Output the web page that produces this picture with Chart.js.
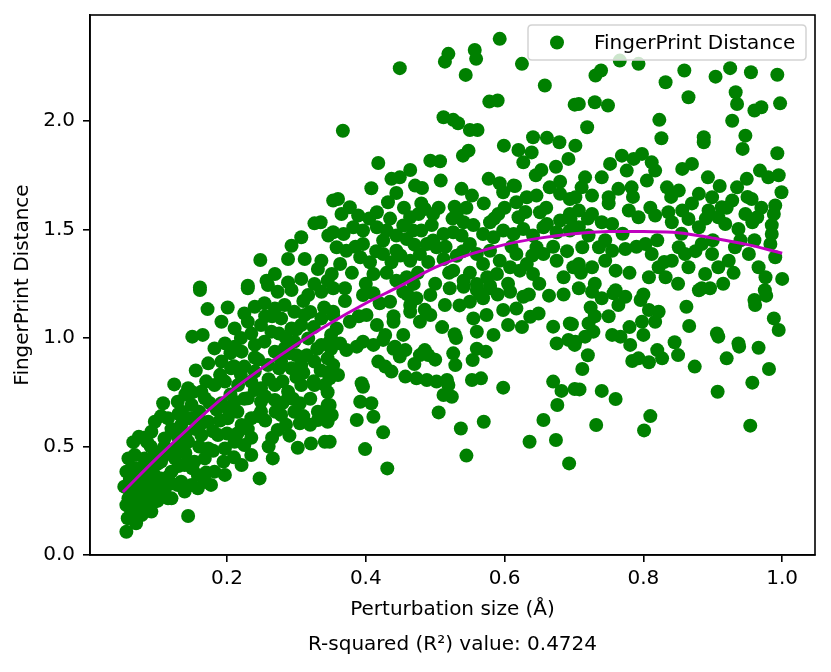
<!DOCTYPE html>
<html>
<head>
<meta charset="utf-8">
<script src="https://cdn.jsdelivr.net/npm/chart.js@4.4.1/dist/chart.umd.min.js"></script>
<style>
html,body{margin:0;padding:0;background:#fff;}
canvas{display:block;}
</style>
</head>
<body>
<canvas id="c" width="831" height="672"></canvas>
<script>
// ---------- DATA ----------
const xTickValues = [0.2, 0.4, 0.6, 0.8, 1.0];
const yTickValues = [0.0, 0.5, 1.0, 1.5, 2.0];

const fitX = [0.05,0.10,0.15,0.20,0.25,0.30,0.35,0.40,0.45,0.50,0.55,0.60,0.65,0.70,0.75,0.80,0.85,0.90,0.95,1.00];
const fitY = [0.29,0.45,0.60,0.74,0.86,0.97,1.07,1.16,1.24,1.325,1.385,1.43,1.46,1.48,1.49,1.49,1.485,1.46,1.43,1.39];

const leftPoints = [
[0.353,1.633],[0.326,1.528],[0.335,1.533],[0.307,1.464],[0.293,1.425],[0.346,1.472],[0.248,1.359],[0.288,1.364],[0.312,1.364],[0.336,1.356],[0.331,1.318],[0.257,1.264],[0.269,1.295],[0.288,1.256],[0.307,1.272],[0.326,1.249],[0.345,1.264],[0.161,1.233],[0.230,1.241],
[0.161,1.221],[0.230,1.229],[0.259,1.244],[0.273,1.213],[0.293,1.221],[0.317,1.198],[0.336,1.213],[0.353,1.229],
[0.172,1.133],[0.201,1.140],
[0.225,1.113],[0.240,1.144],[0.254,1.160],[0.269,1.136],[0.283,1.152],[0.297,1.121],[0.312,1.106],
[0.192,1.075],[0.211,1.044],[0.230,1.075],[0.249,1.060],[0.264,1.029],[0.278,1.090],[0.293,1.044],[0.307,1.060],[0.336,1.090],[0.353,1.106],
[0.150,1.006],[0.165,1.014],
[0.182,0.952],[0.197,0.975],[0.211,0.960],[0.221,0.937],[0.240,0.968],[0.254,0.983],[0.269,0.937],[0.283,0.952],[0.297,0.983],[0.317,0.998],[0.336,0.968],[0.350,1.014],
[0.173,0.883],[0.192,0.891],[0.206,0.860],[0.225,0.868],[0.240,0.845],[0.259,0.875],[0.278,0.891],[0.293,0.860],[0.307,0.875],[0.326,0.891],[0.345,0.906],
[0.124,0.786],[0.144,0.768],[0.163,0.752],[0.182,0.783],[0.197,0.799],[0.216,0.783],[0.235,0.799],[0.249,0.768],[0.269,0.783],[0.288,0.752],[0.307,0.783],[0.326,0.783],[0.341,0.783],
[0.108,0.699],[0.129,0.706],[0.149,0.691],[0.168,0.722],[0.192,0.699],[0.211,0.706],[0.230,0.722],[0.249,0.706],[0.269,0.714],[0.288,0.722],[0.305,0.699],[0.345,0.691],
[0.096,0.614],[0.115,0.630],[0.134,0.599],[0.153,0.630],[0.173,0.614],[0.187,0.553],[0.201,0.630],[0.221,0.599],[0.235,0.630],[0.249,0.660],[0.278,0.645],[0.297,0.660],[0.331,0.660],[0.345,0.614],
[0.073,0.545],[0.091,0.568],[0.110,0.537],[0.129,0.545],[0.144,0.522],[0.163,0.553],[0.173,0.491],
[0.197,0.491],[0.211,0.522],[0.225,0.507],[0.235,0.461],[0.221,0.415],[0.266,0.445],[0.273,0.576],[0.302,0.494],[0.321,0.514],[0.341,0.522],[0.305,0.607],[0.331,0.622],
[0.058,0.445],[0.067,0.461],[0.081,0.445],[0.096,0.476],[0.110,0.461],[0.125,0.445],[0.139,0.415],[0.153,0.430],[0.168,0.445],[0.182,0.384],[0.197,0.369],[0.158,0.369],
[0.055,0.384],[0.062,0.399],[0.077,0.369],[0.091,0.384],[0.105,0.353],[0.120,0.384],[0.134,0.338],[0.149,0.323],[0.168,0.338],[0.177,0.323],
[0.052,0.315],[0.057,0.322],[0.072,0.307],[0.086,0.292],[0.101,0.276],[0.115,0.261],[0.096,0.246],[0.081,0.230],[0.067,0.246],[0.058,0.261],
[0.055,0.230],[0.062,0.200],[0.077,0.184],[0.091,0.200],[0.057,0.169],[0.069,0.146],[0.144,0.180],[0.055,0.107],[0.120,0.261],
[0.139,0.292],[0.158,0.307],[0.129,0.322],[0.247,0.353],
[0.060,0.350],[0.070,0.400],[0.085,0.330],[0.100,0.420],[0.110,0.500],[0.120,0.580],[0.130,0.650],[0.140,0.740],[0.090,0.500],[0.075,0.270],[0.065,0.290],[0.100,0.310],[0.115,0.360],[0.125,0.490],[0.140,0.470],[0.155,0.580],[0.160,0.660],[0.175,0.700],[0.180,0.570],[0.185,0.670],[0.200,0.560],[0.205,0.740],[0.215,0.660],[0.220,0.830],[0.230,0.580],[0.240,0.760],[0.255,0.620],[0.260,0.810],[0.265,0.540],[0.275,0.860],[0.280,0.700],[0.285,0.600],[0.290,0.930],[0.300,0.820],[0.310,0.640],[0.315,0.920],[0.320,0.720],[0.325,1.050],[0.335,0.850],[0.340,1.140],[0.345,0.750],[0.310,1.170],[0.285,1.000],[0.265,1.100],[0.245,0.900],[0.235,1.020],[0.205,0.930],[0.190,0.830],[0.170,0.800],[0.155,0.850],[0.150,0.750],[0.135,0.660],[0.140,0.550],[0.095,0.430],[0.085,0.520],[0.075,0.350],
[0.060,0.270],[0.065,0.340],[0.070,0.190],[0.080,0.260],[0.080,0.410],[0.085,0.240],[0.090,0.330],[0.095,0.370],[0.100,0.250],[0.105,0.430],[0.110,0.300],[0.115,0.480],[0.120,0.330],[0.125,0.570],[0.130,0.410],[0.135,0.500],[0.145,0.630],[0.150,0.400],[0.160,0.500],[0.165,0.610],[0.170,0.380],[0.180,0.480],[0.190,0.620],[0.195,0.430],[0.200,0.680],[0.210,0.450],[0.065,0.520],[0.080,0.540],[0.105,0.640],
[0.215,0.560],[0.225,0.720],[0.235,0.540],[0.245,0.640],[0.255,0.730],[0.260,0.500],[0.270,0.660],[0.280,0.800],[0.290,0.550],[0.295,0.720],[0.300,0.920],[0.310,0.840],[0.320,0.600],[0.325,0.800],[0.330,0.950],[0.340,0.660],[0.345,0.840],[0.350,0.950],[0.300,1.040],[0.320,1.120],[0.275,1.020],[0.255,1.100],[0.220,1.000],[0.210,0.870],[0.240,0.910]
];

const middlePoints = [
[0.593,2.378],[0.519,2.309],[0.514,2.273],[0.557,2.327],[0.559,2.286],[0.449,2.243],[0.544,2.212],[0.625,2.263],[0.658,2.163],[0.578,2.089],[0.590,2.094],[0.701,2.075],[0.512,2.017],[0.526,2.005],[0.533,1.989],[0.550,1.958],[0.561,1.958],[0.367,1.955],[0.641,1.925],[0.661,1.922],[0.679,1.902],[0.599,1.886],[0.620,1.866],[0.639,1.855],[0.627,1.809],[0.540,1.840],[0.548,1.863],[0.418,1.806],[0.493,1.817],[0.507,1.814],[0.692,1.825],[0.653,1.774],[0.674,1.789],[0.464,1.774],[0.437,1.733],[0.449,1.740],[0.508,1.725],[0.577,1.733],[0.593,1.713],[0.613,1.702],[0.598,1.671],[0.408,1.690],[0.444,1.668],[0.471,1.702],[0.481,1.691],[0.538,1.687],[0.553,1.656],[0.360,1.640],[0.665,1.694],[0.680,1.664],[0.694,1.640],[0.617,1.625],[0.632,1.648],[0.646,1.656],[0.432,1.625],[0.377,1.602],[0.365,1.571],[0.389,1.564],[0.416,1.579],[0.485,1.594],[0.497,1.571],[0.528,1.605],[0.531,1.564],[0.541,1.533],[0.591,1.571],[0.579,1.533],[0.620,1.556],[0.651,1.579],[0.661,1.525],[0.680,1.541],[0.694,1.571],[0.464,1.556],[0.476,1.571],[0.454,1.518],[0.353,1.487],[0.368,1.479],[0.382,1.510],[0.396,1.495],[0.396,1.433],[0.416,1.510],[0.430,1.495],[0.425,1.449],[0.444,1.472],[0.459,1.456],[0.468,1.495],[0.480,1.495],[0.497,1.449],[0.512,1.479],[0.526,1.487],[0.538,1.472],[0.550,1.433],[0.569,1.479],[0.584,1.464],[0.598,1.495],[0.613,1.479],[0.627,1.502],[0.641,1.472],[0.656,1.510],[0.675,1.487],[0.694,1.495],[0.358,1.418],[0.372,1.402],[0.363,1.341],[0.351,1.295],[0.392,1.372],[0.406,1.349],[0.411,1.295],[0.425,1.387],[0.437,1.349],[0.444,1.402],[0.464,1.356],[0.459,1.280],[0.478,1.387],[0.488,1.433],[0.502,1.418],[0.512,1.364],[0.526,1.310],[0.541,1.264],[0.531,1.379],[0.560,1.387],[0.569,1.341],[0.579,1.402],[0.593,1.356],[0.589,1.295],[0.608,1.326],[0.622,1.310],[0.632,1.341],[0.641,1.295],[0.656,1.387],[0.675,1.356],[0.685,1.280],[0.699,1.326],[0.646,1.418],[0.617,1.387],[0.444,1.264],[0.469,1.249],[0.560,1.249],[0.579,1.241],
[0.370,1.229],[0.396,1.198],[0.411,1.206],[0.435,1.167],[0.454,1.213],[0.473,1.183],[0.493,1.198],[0.514,1.152],[0.521,1.229],[0.541,1.236],[0.560,1.221],[0.579,1.229],[0.608,1.213],[0.627,1.190],[0.550,1.167],[0.569,1.183],[0.664,1.195],
[0.353,1.121],[0.377,1.075],[0.358,1.044],[0.401,1.106],[0.416,1.060],[0.428,1.014],[0.440,1.075],[0.454,1.014],[0.464,1.121],[0.478,1.075],[0.493,1.106],[0.464,1.152],[0.528,1.017],
[0.555,1.090],[0.560,1.029],[0.574,1.106],[0.584,1.014],[0.598,1.129],[0.605,1.060],[0.617,1.136],[0.637,1.098],[0.649,1.113],
[0.670,1.052],[0.694,1.067],[0.675,0.975],[0.692,0.991],[0.701,0.968],
[0.348,0.983],[0.363,0.975],[0.372,0.944],[0.387,0.960],[0.396,0.983],[0.411,0.968],[0.425,0.991],[0.442,0.960],[0.449,0.914],[0.457,0.944],
[0.478,0.921],[0.490,0.921],[0.485,0.944],[0.526,0.929],[0.529,0.875],[0.554,0.898],[0.573,0.937],
[0.353,0.875],[0.360,0.829],[0.348,0.814],[0.418,0.891],[0.428,0.868],[0.437,0.845],
[0.457,0.822],[0.473,0.814],[0.488,0.806],[0.502,0.799],[0.517,0.806],[0.519,0.783],[0.512,0.737],[0.524,0.729],
[0.553,0.806],[0.566,0.814],[0.598,0.771],[0.394,0.791],[0.396,0.775],[0.392,0.706],[0.408,0.699],[0.411,0.637],
[0.348,0.691],[0.351,0.645],[0.348,0.522],[0.387,0.622],[0.425,0.565],[0.399,0.488],[0.431,0.399],[0.505,0.657],[0.537,0.583],[0.570,0.614],[0.545,0.458],
[0.670,0.799],[0.682,0.756],[0.701,0.765],[0.676,0.691],[0.656,0.622],[0.636,0.522],[0.674,0.530],[0.693,0.422],
[0.370,1.170],[0.380,1.300],[0.385,1.420],[0.390,1.100],[0.400,1.250],[0.405,1.550],[0.415,1.400],[0.420,1.160],[0.430,1.300],[0.435,1.550],[0.440,1.100],[0.450,1.380],[0.455,1.600],[0.460,1.200],[0.470,1.430],[0.475,1.300],[0.480,1.620],[0.485,1.130],[0.490,1.350],[0.495,1.520],[0.500,1.250],[0.505,1.600],[0.510,1.050],[0.515,1.420],[0.520,1.300],[0.525,1.550],[0.535,1.150],[0.540,1.400],[0.545,1.600],[0.550,1.300],[0.555,1.520],[0.565,1.200],[0.570,1.620],[0.575,1.280],[0.585,1.550],[0.590,1.200],[0.600,1.600],[0.605,1.250],[0.610,1.420],[0.615,1.700],[0.625,1.050],[0.630,1.580],[0.635,1.200],[0.640,1.380],[0.645,1.750],[0.650,1.250],[0.660,1.600],[0.670,1.420],[0.680,1.720],[0.685,1.200],[0.690,1.400],[0.695,1.550],
[0.440,0.950],[0.470,0.880],[0.500,0.900],[0.530,1.000],[0.560,0.950]
];

const rightPoints = [
[0.731,2.209],[0.739,2.232],[0.766,2.278],[0.793,2.263],[0.832,2.178],[0.859,2.232],[0.904,2.204],[0.925,2.243],[0.955,2.224],[0.993,2.213],[0.865,2.109],[0.933,2.132],[0.935,2.078],[0.960,2.048],[0.970,2.063],[0.997,2.081],[0.707,2.078],[0.730,2.086],[0.749,2.071],[0.823,2.005],[0.928,2.001],[0.719,1.971],[0.826,1.920],[0.887,1.925],[0.887,1.902],[0.947,1.932],[0.943,1.871],[0.993,1.851],[0.702,1.886],[0.769,1.840],[0.786,1.825],[0.798,1.848],[0.812,1.809],[0.817,1.771],[0.752,1.802],[0.740,1.740],[0.776,1.771],[0.805,1.725],[0.856,1.779],[0.870,1.802],[0.893,1.740],[0.968,1.771],[0.980,1.740],[0.949,1.733],[0.935,1.694],[0.999,1.671],[0.716,1.740],[0.711,1.694],[0.764,1.687],[0.783,1.694],[0.834,1.694],[0.851,1.679],[0.880,1.664],[0.899,1.648],[0.702,1.648],[0.726,1.656],[0.750,1.648],[0.928,1.633],[0.956,1.640],[0.990,1.610],[0.988,1.571],[0.779,1.587],[0.793,1.556],[0.817,1.564],[0.836,1.579],[0.856,1.587],[0.894,1.587],[0.913,1.602],[0.908,1.556],[0.947,1.571],[0.964,1.556],[0.707,1.587],[0.726,1.571],[0.740,1.533],[0.755,1.525],[0.841,1.533],[0.865,1.548],[0.880,1.510],[0.918,1.525],[0.937,1.502],[0.957,1.533],[0.985,1.479],[0.983,1.433],[0.707,1.510],[0.721,1.472],
[0.712,1.418],[0.736,1.418],[0.755,1.402],[0.774,1.410],[0.745,1.356],[0.760,1.310],[0.726,1.326],[0.707,1.341],[0.803,1.433],[0.812,1.387],[0.822,1.326],[0.808,1.280],[0.832,1.280],[0.841,1.356],[0.851,1.418],[0.860,1.387],[0.865,1.326],[0.884,1.433],[0.899,1.387],[0.889,1.295],[0.908,1.326],[0.923,1.356],[0.932,1.418],[0.952,1.387],[0.966,1.326],[0.976,1.280],[0.990,1.372],[1.000,1.272],
[0.707,1.229],[0.726,1.213],[0.740,1.183],[0.757,1.206],[0.774,1.190],[0.764,1.152],[0.796,1.175],[0.808,1.129],[0.822,1.121],[0.817,1.075],[0.798,1.075],[0.800,1.014],[0.724,1.140],[0.697,1.063],[0.721,1.067],[0.728,1.029],[0.716,1.006],[0.702,0.983],[0.755,1.014],[0.767,1.006],[0.781,0.968],[0.784,0.894],[0.793,0.906],[0.808,0.888],[0.820,0.944],[0.827,0.906],[0.845,0.980],[0.850,0.921],[0.862,1.144],[0.866,1.055],[0.874,0.868],[0.884,1.229],[0.896,1.229],[0.906,1.021],[0.908,1.006],[0.937,0.975],[0.938,0.960],[0.920,0.906],[0.907,0.752],[0.966,0.955],[0.960,1.175],[0.961,1.152],[0.977,1.195],[0.988,1.090],[0.995,1.037],[0.981,0.857],[0.957,0.794],[0.954,0.596],[0.712,0.857],[0.708,0.763],[0.740,0.756],[0.760,0.719],[0.732,0.599],[0.810,0.640],[0.801,0.574],
[0.710,1.300],[0.720,1.550],[0.730,1.250],[0.745,1.450],[0.750,1.620],[0.760,1.220],[0.770,1.480],[0.780,1.300],[0.785,1.650],[0.790,1.420],[0.800,1.200],[0.810,1.600],[0.820,1.450],[0.830,1.350],[0.840,1.650],[0.850,1.250],[0.855,1.480],[0.870,1.620],[0.875,1.400],[0.880,1.220],[0.890,1.550],[0.900,1.450],[0.910,1.700],[0.915,1.250],[0.920,1.600],[0.930,1.300],[0.940,1.450],[0.950,1.650],[0.960,1.450],[0.970,1.600],[0.975,1.220],[0.985,1.520],[0.995,1.750],[0.730,1.100],[0.750,1.100],[0.780,1.050],[0.720,0.920]
];

const seriesLabel = 'FingerPrint Distance';
const xAxisLabel = 'Perturbation size (Å)';
const yAxisLabel = 'FingerPrint Distance';
const rSquaredText = 'R-squared (R²) value: 0.4724';

// ---------- BUILD ----------
const FONT = 'DejaVu Sans';
const scatterData = leftPoints.concat(middlePoints, rightPoints).map(p => ({x: p[0], y: p[1]}));
const fitData = fitX.map((x, i) => ({x: x, y: fitY[i]}));

const frameAndLegend = {
  id: 'frameAndLegend',
  afterDraw(chart) {
    const {ctx, chartArea: a} = chart;
    ctx.save();
    ctx.strokeStyle = '#000';
    ctx.lineWidth = 1.6;
    ctx.strokeRect(a.left, a.top, a.right - a.left, a.bottom - a.top);
    // legend box
    const bx = a.right - 9, by = a.top + 10;
    const w = 278, h = 35, x0 = bx - w, r = 4;
    ctx.beginPath();
    ctx.moveTo(x0 + r, by);
    ctx.lineTo(x0 + w - r, by);
    ctx.quadraticCurveTo(x0 + w, by, x0 + w, by + r);
    ctx.lineTo(x0 + w, by + h - r);
    ctx.quadraticCurveTo(x0 + w, by + h, x0 + w - r, by + h);
    ctx.lineTo(x0 + r, by + h);
    ctx.quadraticCurveTo(x0, by + h, x0, by + h - r);
    ctx.lineTo(x0, by + r);
    ctx.quadraticCurveTo(x0, by, x0 + r, by);
    ctx.closePath();
    ctx.fillStyle = 'rgba(255,255,255,0.8)';
    ctx.fill();
    ctx.strokeStyle = '#d3d3d3';
    ctx.lineWidth = 1.5;
    ctx.stroke();
    ctx.beginPath();
    ctx.arc(x0 + 29, by + 17.5, 7, 0, Math.PI * 2);
    ctx.fillStyle = '#008000';
    ctx.fill();
    ctx.fillStyle = '#000';
    ctx.font = '20px "' + FONT + '"';
    ctx.textBaseline = 'alphabetic';
    ctx.textAlign = 'left';
    ctx.fillText(seriesLabel, x0 + 66, by + 23.5);
    // R-squared caption, centred under the axes
    ctx.textAlign = 'center';
    ctx.textBaseline = 'middle';
    ctx.fillText(rSquaredText, (a.left + a.right) / 2, 645);
    ctx.restore();
  }
};

new Chart(document.getElementById('c'), {
  type: 'scatter',
  data: {
    datasets: [
      {
        type: 'line',
        label: 'fit',
        data: fitData,
        borderColor: '#bf00bf',
        borderWidth: 3,
        pointRadius: 0,
        tension: 0.4,
        fill: false,
        order: 0
      },
      {
        type: 'scatter',
        label: seriesLabel,
        data: scatterData,
        backgroundColor: '#008000',
        borderWidth: 0,
        pointRadius: 7,
        pointHoverRadius: 7,
        order: 1
      }
    ]
  },
  options: {
    responsive: false,
    animation: false,
    devicePixelRatio: 1,
    events: [],
    layout: {padding: {top: 15, right: 16, left: 0, bottom: 43}},
    plugins: {
      legend: {display: false},
      tooltip: {enabled: false},
      title: {display: false}
    },
    scales: {
      x: {
        type: 'linear',
        min: 0.0026,
        max: 1.0473,
        afterBuildTicks: s => { s.ticks = xTickValues.map(v => ({value: v})); },
        afterFit: s => { s.height = 74; s.paddingLeft = 0; s.paddingRight = 0; },
        ticks: {
          callback: v => Number(v).toFixed(1),
          color: '#000',
          font: {family: FONT, size: 20},
          padding: 5,
          maxRotation: 0
        },
        grid: {drawOnChartArea: false, drawTicks: true, tickLength: 7, color: '#000', lineWidth: 1.6},
        border: {display: true, color: '#000', width: 1.6},
        title: {
          display: true,
          text: xAxisLabel,
          color: '#000',
          font: {family: FONT, size: 20},
          padding: {top: 4, bottom: 7}
        }
      },
      y: {
        type: 'linear',
        min: 0.0,
        max: 2.488,
        afterBuildTicks: s => { s.ticks = yTickValues.map(v => ({value: v})); },
        afterFit: s => { s.width = 90; s.paddingTop = 0; s.paddingBottom = 0; },
        ticks: {
          callback: v => Number(v).toFixed(1),
          color: '#000',
          font: {family: FONT, size: 20},
          padding: 8
        },
        grid: {drawOnChartArea: false, drawTicks: true, tickLength: 7, color: '#000', lineWidth: 1.6},
        border: {display: true, color: '#000', width: 1.6},
        title: {
          display: true,
          text: yAxisLabel,
          color: '#000',
          font: {family: FONT, size: 20},
          padding: {top: 11, bottom: 4}
        }
      }
    }
  },
  plugins: [frameAndLegend]
});
</script>
</body>
</html>
